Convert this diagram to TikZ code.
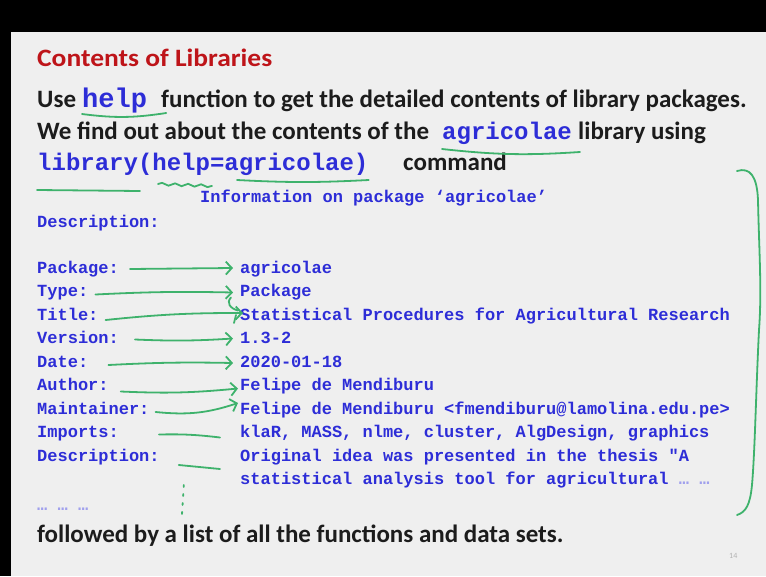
\documentclass[tikz,border=0pt]{standalone}
\usepackage{fontspec}
\setmainfont{Carlito}
\newfontfamily\headfont{Carlito}[FakeStretch=1.1]
\newfontfamily\codefont{Liberation Mono}
\usepackage{xcolor}
\usetikzlibrary{positioning, arrows.meta, decorations.pathmorphing}

\definecolor{slidebg}{RGB}{239,239,239}
\definecolor{titlered}{RGB}{190,20,25}
\definecolor{bodytext}{RGB}{28,28,28}
\definecolor{codeblue}{RGB}{45,45,215}
\definecolor{notegreen}{RGB}{62,178,108}

\begin{document}
\begin{tikzpicture}[
x=1pt, y=-1pt,
body/.style={font=\bfseries\fontsize{25}{28}\selectfont, text=bodytext, inner sep=0pt, anchor=base west},
code/.style={font=\codefont\bfseries\fontsize{17}{20}\selectfont, text=codeblue, inner sep=0pt, anchor=base west},
bigcode/.style={code, font=\codefont\bfseries\fontsize{24}{26}\selectfont},
note/.style={draw=notegreen, line width=1.8pt, line cap=round, line join=round},
>={Straight Barb[length=6pt,width=13pt]}
]

% slide frame
\fill[black] (0,0) rectangle (766,576);
\fill[slidebg] (11,32) rectangle (766,576);
\useasboundingbox (0,0) rectangle (766,576);

% heading and text lines
\node[body, font=\headfont\bfseries\fontsize{25}{28}\selectfont, text=titlered] (head) at (37,66) {Contents of Libraries};

\node[body] (l1a) at (37,107) {Use};
\node[bigcode, font=\codefont\bfseries\fontsize{27}{28}\selectfont] (l1help) at (82,107) {help};
\node[body] (l1b) at (161,107) {function to get the detailed contents of library packages.};

\node[body] (l2a) at (37,139) {We find out about the contents of the};
\node[bigcode] (l2agri) at (442,139) {agricolae};
\node[body] (l2b) at (578,139) {library using};

\node[bigcode] (l3cmd) at (37,170) {library(help=agricolae)};
\node[body] (l3b) at (403,170) {command};

% package information
\node[code] (info) at (200,202) {Information on package ‘agricolae’};
\node[code] (desc0) at (37,227) {Description:};

\node[code] (pkg) at (37,273) {Package:};
\node[code] (typ) at (37,296.5) {Type:};
\node[code] (ttl) at (37,320) {Title:};
\node[code] (ver) at (37,343.5) {Version:};
\node[code] (dat) at (37,367) {Date:};
\node[code] (aut) at (37,390.5) {Author:};
\node[code] (mnt) at (37,414) {Maintainer:};
\node[code] (imp) at (37,437.5) {Imports:};
\node[code] (dsc) at (37,461) {Description:};

\node[code] (pkgv) at (240,273) {agricolae};
\node[code] (typv) at (240,296.5) {Package};
\node[code] (ttlv) at (240,320) {Statistical Procedures for Agricultural Research};
\node[code] (verv) at (240,343.5) {1.3-2};
\node[code] (datv) at (240,367) {2020-01-18};
\node[code] (autv) at (240,390.5) {Felipe de Mendiburu};
\node[code] (mntv) at (240,414) {Felipe de Mendiburu <fmendiburu@lamolina.edu.pe>};
\node[code] (impv) at (240,437.5) {klaR, MASS, nlme, cluster, AlgDesign, graphics};
\node[code] (dscv) at (240,461) {Original idea was presented in the thesis "A};
\node[code] (dscw) at (240,484.5) {statistical analysis tool for agricultural \textcolor{codeblue!45}{… …}};
\node[code, text=codeblue!45] (more) at (37,510) {… … …};

\node[body] (foot) at (37,542) {followed by a list of all the functions and data sets.};
\node[font=\fontsize{8}{9}\selectfont, text=black!30, inner sep=0pt, anchor=base west] (pnum) at (729,558) {14};

% underlines
\draw[note] ([yshift=-7pt]l1help.base west) to[bend right=8] ([xshift=19pt,yshift=-6pt]l1help.base east);
\draw[note] ([yshift=-10pt]l2agri.base west) to[bend right=5] ([xshift=8pt,yshift=-13pt]l2agri.base east);
\draw[note] ([yshift=-20pt]l3cmd.base west) -- ([xshift=103pt,yshift=-21pt]l3cmd.base west);
\draw[note, decorate, decoration={snake, amplitude=1.3pt, segment length=13pt}]
  ([xshift=121pt,yshift=-14pt]l3cmd.base west) -- ([xshift=175pt,yshift=-16pt]l3cmd.base west);
\draw[note] ([xshift=200pt,yshift=-10pt]l3cmd.base west) to[bend right=3] ([yshift=-10pt]l3cmd.base east);

% arrows to the values
\draw[note,->] ([xshift=11pt,yshift=4pt]pkg.base east) -- ([xshift=-7pt,yshift=5pt]pkgv.base west);
\draw[note,->] ([xshift=7pt,yshift=2pt]typ.base east) to[bend left=2] ([xshift=-7pt,yshift=4pt]typv.base west);
\draw[note] ([xshift=-9pt,yshift=-1pt]typv.base west) .. controls ([xshift=-14pt,yshift=-6pt]typv.base west) and ([xshift=-10pt,yshift=-12pt]typv.base west) .. ([xshift=-2pt,yshift=-14pt]typv.base west);
\draw[note,->] ([xshift=7pt]ttl.base east) to[bend left=3] ([xshift=3pt,yshift=7pt]ttlv.base west);
\draw[note] ([xshift=-4pt,yshift=5pt]ttlv.base west) -- ([xshift=-6pt,yshift=-3pt]ttlv.base west);
\draw[note,->] ([xshift=16pt,yshift=4pt]ver.base east) to[bend right=3] ([xshift=-7pt,yshift=5pt]verv.base west);
\draw[note,->] ([xshift=20pt,yshift=2pt]dat.base east) to[bend left=2] ([xshift=-7pt,yshift=4pt]datv.base west);
\draw[note,->] ([xshift=12pt,yshift=-1pt]aut.base east) to[bend right=4] ([xshift=-2pt,yshift=2pt]autv.base west);
\draw[note,->] ([xshift=6pt,yshift=2pt]mnt.base east) to[bend right=12] ([xshift=-2pt,yshift=11pt]mntv.base west);
\draw[note] ([xshift=40pt,yshift=3pt]imp.base east) to[bend left=4] ([xshift=-20pt]impv.base west);
\draw[note] ([xshift=19pt,yshift=-4pt]dsc.base east) -- ([xshift=-20pt,yshift=-8pt]dscv.base west);
\draw[note, dash pattern=on 2pt off 7pt] ([xshift=24pt,yshift=-24pt]dsc.base east) -- ([xshift=22pt,yshift=-56pt]dsc.base east);

% bracket round the output
\draw[note] (737,171) .. controls (750,167) and (757,176) .. (758,200)
  .. controls (759,250) and (762,290) .. (759,330)
  .. controls (756,390) and (755,450) .. (752,485)
  .. controls (750,505) and (746,512) .. (737,515);

\end{tikzpicture}
\end{document}
